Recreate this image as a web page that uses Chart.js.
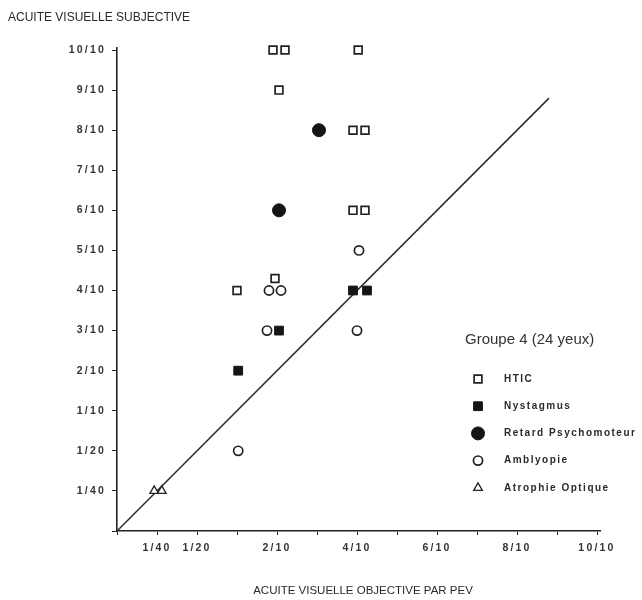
<!DOCTYPE html>
<html lang="fr">
<head>
<meta charset="utf-8">
<title>Groupe 4 (24 yeux)</title>
<script src="https://cdn.jsdelivr.net/npm/chart.js@4.4.0/dist/chart.umd.min.js"></script>
<style>
  html, body { margin: 0; padding: 0; background: #fff; }
</style>
</head>
<body>
<canvas id="graphique" width="642" height="600"></canvas>
<script>
// graduations des deux axes (index 0 = origine)
const graduations = ['', '1/40', '1/20', '1/10', '2/10', '3/10', '4/10', '5/10', '6/10', '7/10', '8/10', '9/10', '10/10'];
const etiquettesX = ['1/40', '1/20', '2/10', '4/10', '6/10', '8/10', '10/10'];

const titreY = 'ACUITE VISUELLE SUBJECTIVE';
const titreX = 'ACUITE VISUELLE OBJECTIVE PAR PEV';
const titreLegende = 'Groupe 4 (24 yeux)';

// positions, en rang de graduation
const hticX = [3.9, 4.2, 6.03, 4.05, 5.9, 6.2, 5.9, 6.2, 3.95, 3.0];
const hticY = [12, 12, 12, 11, 10, 10, 8, 8, 6.3, 6];
const nystagmusX = [5.9, 6.25, 4.05, 3.03];
const nystagmusY = [6, 6, 5, 4];
const retardX = [5.05, 4.05];
const retardY = [10, 8];
const amblyopieX = [6.05, 3.8, 4.1, 3.75, 6.0, 3.03];
const amblyopieY = [7, 6, 6, 5, 5, 2];
const atrophieX = [0.93, 1.12];
const atrophieY = [1, 1];
const diagonale = [0, 10.8];

const police = '"Liberation Sans", Arial, sans-serif';

function points(xs, ys) {
  return xs.map((x, i) => ({ x: x, y: ys[i] }));
}

const decor = {
  id: 'decor',
  beforeDraw(chart) {
    chart.ctx.letterSpacing = '2.2px';
  },
  afterDraw(chart) {
    const ctx = chart.ctx;
    ctx.save();
    ctx.letterSpacing = '0px';
    ctx.fillStyle = '#2a2a2a';
    ctx.textBaseline = 'middle';

    ctx.textAlign = 'left';
    ctx.font = '12px ' + police;
    ctx.fillText(titreY, 8, 18);

    ctx.textAlign = 'center';
    ctx.font = '11.5px ' + police;
    ctx.fillText(titreX, 363, 591);

    // légende
    ctx.textAlign = 'left';
    ctx.font = '15px ' + police;
    ctx.fillStyle = '#333';
    ctx.fillText(titreLegende, 465, 340);

    ctx.font = 'bold 10px ' + police;
    ctx.letterSpacing = '1.5px';
    let y = 379;
    chart.data.datasets.forEach(ds => {
      if (!ds.legende) return;
      ctx.fillStyle = ds.backgroundColor;
      ctx.strokeStyle = ds.borderColor;
      ctx.lineWidth = ds.borderWidth;
      Chart.helpers.drawPoint(ctx, {
        pointStyle: ds.pointStyle,
        radius: ds.pointRadius,
        borderWidth: ds.borderWidth,
        rotation: 0
      }, 478, y);
      ctx.fillStyle = '#2a2a2a';
      ctx.fillText(ds.label, 504, y);
      y += 27.2;
    });
    ctx.restore();
  }
};

const ctx = document.getElementById('graphique').getContext('2d');
new Chart(ctx, {
  type: 'scatter',
  data: {
    datasets: [
      { label: 'HTIC', data: points(hticX, hticY), pointStyle: 'rect', pointRadius: 5.5, clip: false,
        backgroundColor: '#fff', borderColor: '#222', borderWidth: 1.7, legende: true },
      { label: 'Nystagmus', data: points(nystagmusX, nystagmusY), pointStyle: 'rect', pointRadius: 6.2, clip: false,
        backgroundColor: '#151515', borderColor: '#151515', borderWidth: 1, legende: true },
      { label: 'Retard Psychomoteur', data: points(retardX, retardY), pointStyle: 'circle', pointRadius: 6.5, clip: false,
        backgroundColor: '#151515', borderColor: '#151515', borderWidth: 1, legende: true },
      { label: 'Amblyopie', data: points(amblyopieX, amblyopieY), pointStyle: 'circle', pointRadius: 4.6, clip: false,
        backgroundColor: '#fff', borderColor: '#222', borderWidth: 1.7, legende: true },
      { label: 'Atrophie Optique', data: points(atrophieX, atrophieY), pointStyle: 'triangle', pointRadius: 5, clip: false,
        backgroundColor: '#fff', borderColor: '#222', borderWidth: 1.3, legende: true },
      { type: 'line', label: 'diagonale', data: points(diagonale, diagonale), order: 1,
        borderColor: '#2a2a2a', borderWidth: 1.5, pointRadius: 0, fill: false }
    ]
  },
  options: {
    responsive: false,
    animation: false,
    layout: { padding: { left: 0, right: 42, top: 48, bottom: 0 } },
    plugins: {
      legend: { display: false },
      tooltip: { enabled: false }
    },
    scales: {
      x: {
        type: 'linear',
        min: 0,
        max: 12.075,
        afterFit(scale) { scale.height = 69; },
        grid: { drawOnChartArea: false, drawTicks: true, tickLength: 4, color: '#222' },
        border: { display: true, color: '#222', width: 1.6 },
        ticks: {
          stepSize: 1,
          includeBounds: false,
          autoSkip: false,
          maxRotation: 0,
          padding: 7,
          color: '#333',
          font: { family: police, size: 10.5, weight: 'bold' },
          callback: v => etiquettesX.includes(graduations[v]) ? graduations[v] : ''
        }
      },
      y: {
        type: 'linear',
        min: 0,
        max: 12.05,
        afterFit(scale) { scale.width = 117; },
        grid: { drawOnChartArea: false, drawTicks: true, tickLength: 5, color: '#222' },
        border: { display: true, color: '#222', width: 1.6 },
        ticks: {
          stepSize: 1,
          includeBounds: false,
          autoSkip: false,
          padding: 6,
          color: '#333',
          font: { family: police, size: 10.5, weight: 'bold' },
          callback: v => graduations[v] || ''
        }
      }
    }
  },
  plugins: [decor]
});
</script>
</body>
</html>
